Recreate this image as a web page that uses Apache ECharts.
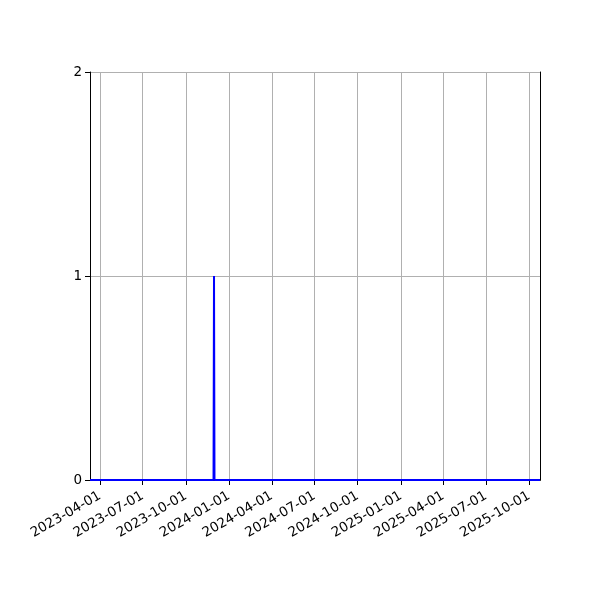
<!DOCTYPE html>
<html>
<head>
<meta charset="utf-8">
<script src="https://cdn.jsdelivr.net/npm/echarts@6/dist/echarts.min.js"></script>
<style>
html,body{margin:0;padding:0;background:#fff;}
#chart{width:600px;height:600px;}
</style>
</head>
<body>
<div id="chart"></div>
<script>
// Data: change points of the series (zero everywhere except one day)
const dates = ['2023-03-11', '2023-11-29', '2023-11-30', '2023-12-01', '2025-10-24'];
const values = [0, 0, 1, 0, 0];
// Axis
const xMinDate = '2023-03-11';
const xMaxDate = '2025-10-24';
const xTickDates = ['2023-04-01','2023-07-01','2023-10-01','2024-01-01','2024-04-01','2024-07-01','2024-10-01','2025-01-01','2025-04-01','2025-07-01','2025-10-01'];
const yTicks = [0, 1, 2];

const ts = d => Date.parse(d + 'T00:00:00Z');
const fmt = v => {
  const d = new Date(v);
  const p = n => String(n).padStart(2, '0');
  return d.getUTCFullYear() + '-' + p(d.getUTCMonth() + 1) + '-' + p(d.getUTCDate());
};

const chart = echarts.init(document.getElementById('chart'), null, {renderer: 'canvas'});
const font = 'DejaVu Sans';
const frameAxis = {
  axisLine: {show: true, lineStyle: {color: '#000', width: 1}},
  axisTick: {show: false},
  axisLabel: {show: false},
  splitLine: {show: false}
};
chart.setOption({
  animation: false,
  backgroundColor: '#ffffff',
  grid: {left: 90, right: 60, top: 72, bottom: 120},
  xAxis: [{
    type: 'value',
    min: ts(xMinDate),
    max: ts(xMaxDate),
    z: 3,
    axisLine: {show: true, onZero: false, lineStyle: {color: '#000', width: 1}},
    axisTick: {show: true, length: 5, lineStyle: {color: '#000'}, customValues: xTickDates.map(ts)},
    axisLabel: {
      customValues: xTickDates.map(ts),
      formatter: v => fmt(v),
      rotate: 30,
      margin: 15,
      fontFamily: font,
      fontSize: 13.5,
      color: '#000'
    },
    splitLine: {show: true, lineStyle: {color: '#b0b0b0', width: 1}}
  }, Object.assign({type: 'value', position: 'top', min: ts(xMinDate), max: ts(xMaxDate), z: 3}, frameAxis)],
  yAxis: [{
    type: 'value',
    min: 0,
    max: 2,
    interval: 1,
    z: 3,
    axisLine: {show: true, onZero: false, lineStyle: {color: '#000', width: 1}},
    axisTick: {show: true, length: 5, lineStyle: {color: '#000'}},
    axisLabel: {margin: 8, fontFamily: font, fontSize: 13.5, color: '#000', formatter: v => yTicks.includes(v) ? String(v) : ''},
    splitLine: {show: true, lineStyle: {color: '#b0b0b0', width: 1}}
  }, Object.assign({type: 'value', position: 'right', min: 0, max: 2, interval: 1, z: 3}, frameAxis)],
  series: [{
    type: 'line',
    data: dates.map((d, i) => [ts(d), values[i]]),
    showSymbol: false,
    symbol: 'none',
    clip: false,
    lineStyle: {color: '#0000ff', width: 2},
    z: 5
  }]
});
</script>
</body>
</html>
